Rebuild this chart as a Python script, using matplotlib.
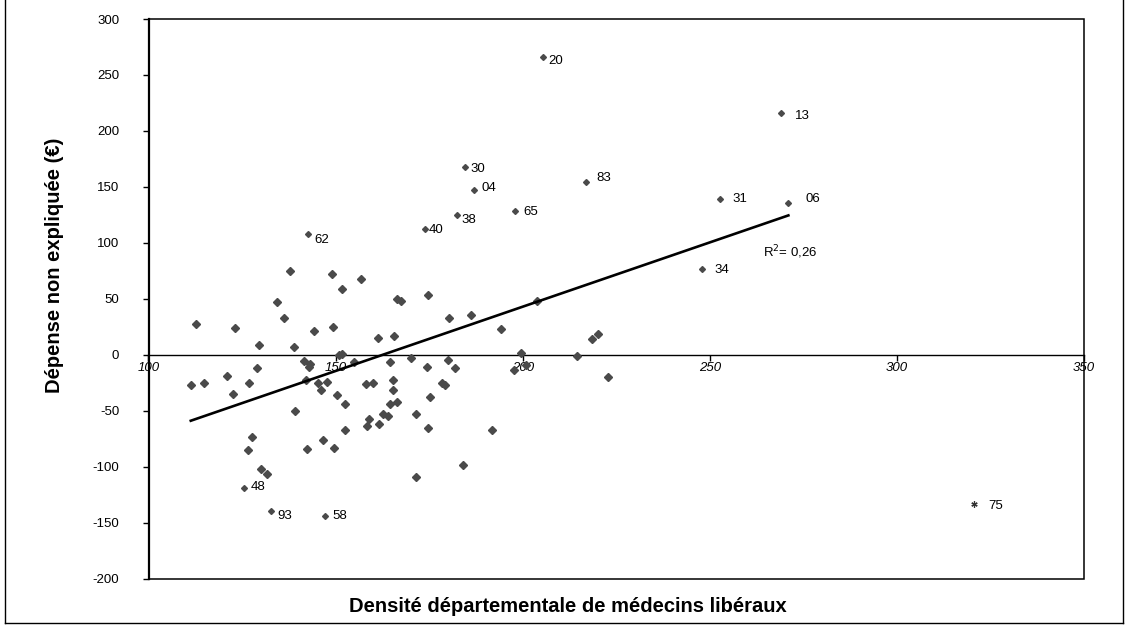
import numpy as np
import matplotlib
matplotlib.use("Agg")
import matplotlib.pyplot as plt
from matplotlib.lines import Line2D
from matplotlib.patches import Rectangle

plt.rcParams["font.family"] = ["Liberation Sans", "DejaVu Sans"]
plt.rcParams["axes.unicode_minus"] = False

# unlabelled departements: density of doctors, unexplained spending (EUR)
dens = [137.9, 149.1, 156.7, 151.6, 174.8, 166.4, 167.5, 203.7, 134.3, 186.1,
        180.2, 136.1, 112.6, 149.3, 123.0, 194.1, 144.1, 220.2, 165.7, 161.3,
        218.6, 129.6, 138.8, 199.5, 151.7, 151.0, 214.5, 170.1, 180.0, 141.5,
        164.5, 155.0, 143.1, 200.8, 174.4, 142.9, 129.1, 181.8, 197.7, 121.0,
        222.7, 142.0, 165.4, 114.9, 126.8, 147.6, 160.1, 178.4, 145.2, 158.1,
        111.3, 179.3, 146.2, 165.3, 122.6, 150.3, 175.3, 166.5, 152.4, 164.5,
        139.2, 171.5, 162.7, 164.0, 158.9, 161.5, 158.3, 174.7, 152.5, 191.7,
        127.6, 146.6, 149.5, 142.4, 126.5, 184.1, 130.1, 131.6, 171.4]
depense = [75.0, 72.0, 67.5, 58.9, 53.2, 49.6, 47.6, 47.9, 46.7, 35.3,
           32.6, 32.4, 27.0, 25.2, 24.3, 23.1, 21.6, 18.1, 16.8, 14.8,
           13.6, 8.5, 6.7, 1.1, 0.4, -0.6, -1.2, -2.8, -4.6, -5.5,
           -6.2, -6.6, -7.9, -9.1, -10.6, -10.9, -11.8, -11.8, -13.9, -18.6,
           -20.2, -22.2, -22.3, -24.9, -24.9, -24.3, -24.9, -24.9, -25.4, -25.8,
           -26.7, -27.3, -31.5, -31.8, -35.3, -35.6, -37.4, -42.2, -43.7, -44.3,
           -49.9, -52.6, -52.9, -54.7, -57.7, -61.6, -64.0, -65.7, -66.9, -67.2,
           -73.8, -76.5, -83.4, -84.5, -85.4, -98.8, -102.4, -106.6, -109.3]

# labelled departements
codes = ["20", "13", "30", "83", "04", "31", "06", "65", "38", "40",
         "62", "34", "48", "93", "58"]
dens_lab = [205.3, 269.1, 184.7, 216.9, 187.1, 252.8, 271.0, 197.9, 182.4, 173.9,
            142.5, 247.9, 125.6, 132.8, 147.3]
dep_lab = [265.8, 215.7, 168.0, 154.3, 146.9, 139.1, 135.5, 128.6, 125.1, 112.5,
           107.8, 76.7, -119.4, -140.0, -144.2]

# Paris, out of the fit
paris_code = "75"
paris_dens = 320.5
paris_dep = -133.1

# trend line
trend_slope = 1.149
trend_intercept = -186.9
r2_text = "R$^2$= 0,26"

# label offsets in pixels (dx, dy)
label_offsets = [(6, -4), (14, -3), (5, -2), (10, 4), (7, 2), (12, 0), (17, 4),
                 (9, -1), (5, -5), (4, -1), (7, -6), (13, -1), (6, 1), (6, -5),
                 (7, 0)]

fig = plt.figure(figsize=(11.26, 6.26), dpi=100)
ax = fig.add_axes([148.5 / 1126, 1 - 578.5 / 626, (1084 - 148.5) / 1126, (578.5 - 19) / 626])

mk_color = "#4a4a4a"
ax.plot(dens, depense, "D", color=mk_color, markersize=4.2, zorder=3)
ax.plot(dens_lab, dep_lab, "D", color=mk_color, markersize=3.0, zorder=3)
ax.plot([paris_dens], [paris_dep], marker=(6, 2, 0), color="#333333",
        markersize=4.5, markeredgewidth=0.9, linestyle="none", zorder=3)

for c, x, y, off in zip(codes, dens_lab, dep_lab, label_offsets):
    ax.annotate(c, (x, y), xytext=off, textcoords="offset pixels",
                ha="left", va="center", fontsize=9.5)
ax.annotate(paris_code, (paris_dens, paris_dep), xytext=(15, -2),
            textcoords="offset pixels", ha="left", va="center", fontsize=9.5)

all_x = np.array(dens + dens_lab)
xs = np.array([all_x.min(), all_x.max()])
ax.plot(xs, trend_intercept + trend_slope * xs, color="black", linewidth=1.9, zorder=4)
ax.text(264.3, 92.0, r2_text, ha="left", va="center", fontsize=9.5)

ax.set_xlim(100, 350)
ax.set_ylim(-200, 300)
ax.set_xticks(np.arange(100, 351, 50))
ax.set_yticks(np.arange(-200, 301, 50))

# x axis sits on the zero line, a box goes around the plot
ax.spines["bottom"].set_position(("data", 0))
ax.spines["bottom"].set_linewidth(1.0)
ax.spines["left"].set_linewidth(1.6)
ax.spines["top"].set_visible(False)
ax.spines["right"].set_visible(False)
ax.add_patch(Rectangle((0, 0), 1, 1, transform=ax.transAxes, fill=False,
                       edgecolor="black", linewidth=1.1, clip_on=False, zorder=5))

ax.tick_params(axis="x", direction="out", length=4, width=1, pad=1, labelsize=9.5)
ax.tick_params(axis="y", direction="out", length=4, width=1, pad=17, labelsize=9.5)
for lab in ax.get_xticklabels():
    lab.set_fontstyle("italic")

fig.text(568 / 1126, 1 - 606 / 626,
         "Densité départementale de médecins libéraux",
         ha="center", va="center", fontsize=14.5, fontweight="bold")
fig.text(55 / 1126, 1 - 265 / 626, "Dépense non expliquée (€)", rotation=90,
         ha="center", va="center", fontsize=14.5, fontweight="bold")

# outer frame of the picture
for xy in [((0.004, 0.004), (0.004, 1.0)), ((0.997, 0.997), (0.004, 1.0)),
           ((0.004, 0.997), (0.004, 0.004))]:
    fig.add_artist(Line2D(xy[0], xy[1], color="black", linewidth=1.0))

fig.savefig("out.png", dpi=100)
